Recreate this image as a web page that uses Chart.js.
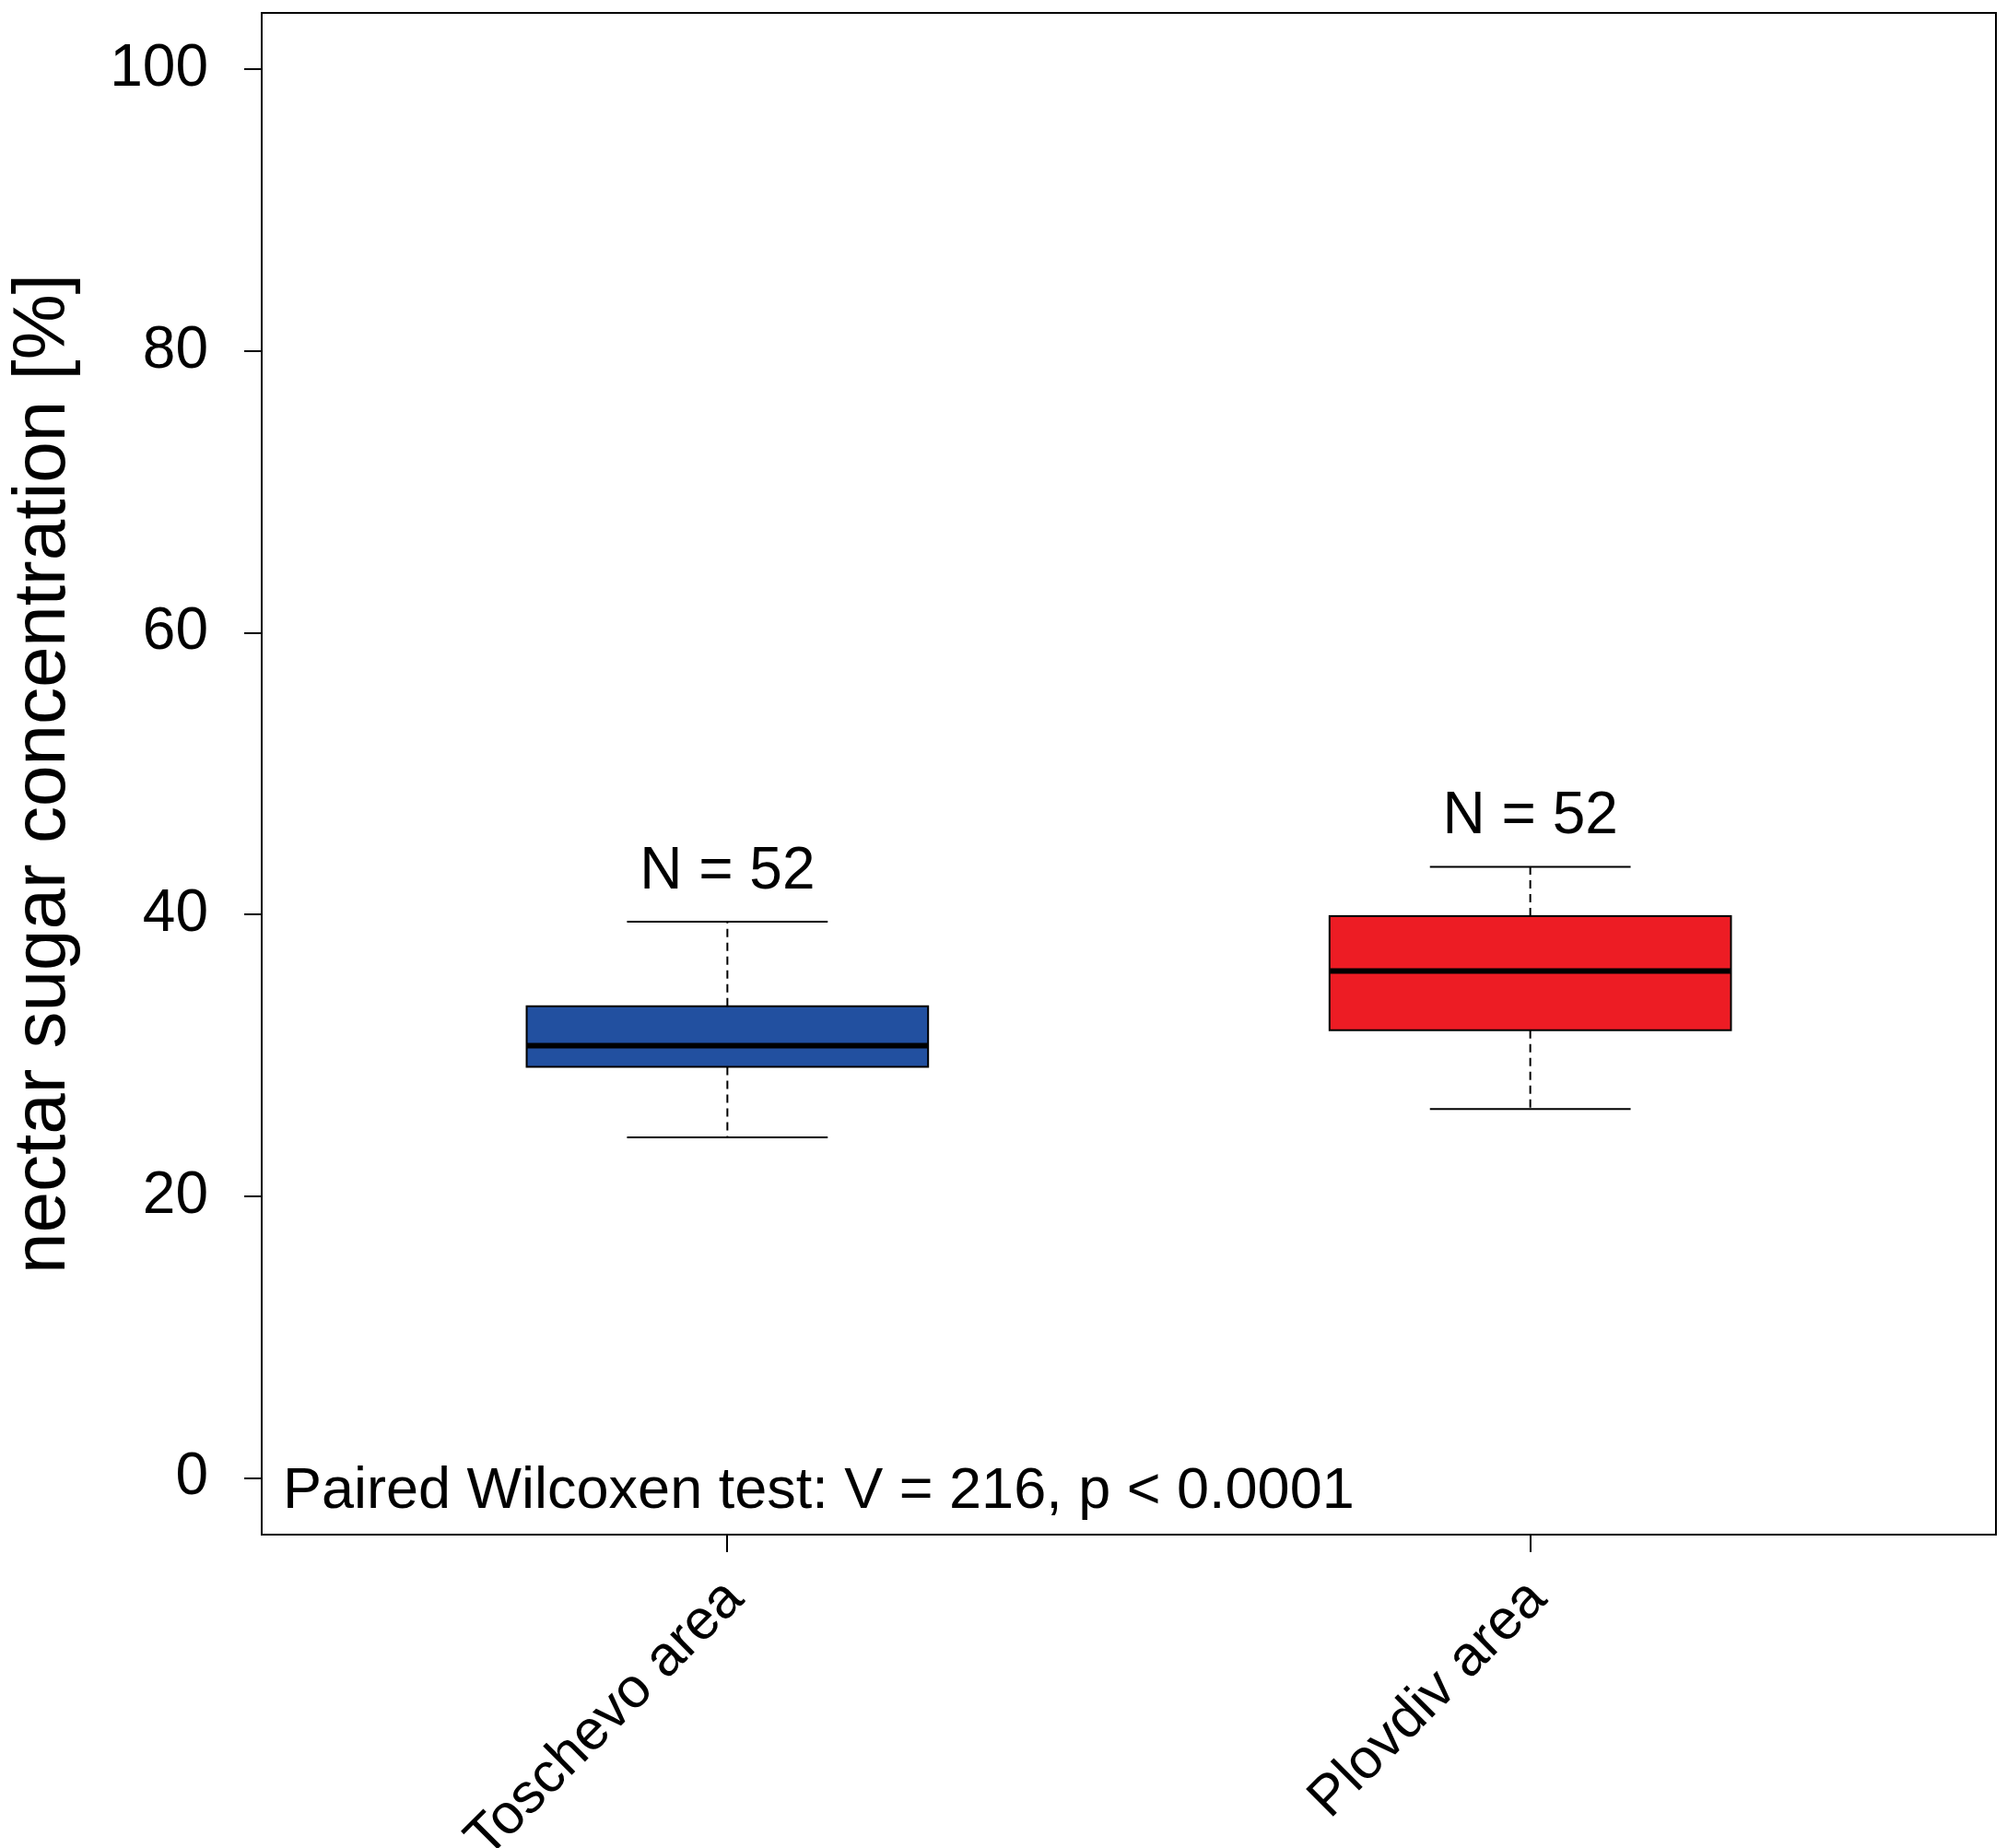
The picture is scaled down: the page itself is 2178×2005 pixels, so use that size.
<!DOCTYPE html>
<html lang="en">
<head>
    <meta charset="UTF-8">
    <title>Nectar sugar concentration</title>
    <script src="https://cdn.jsdelivr.net/npm/chart.js"></script>
    <style>
        body {
            margin: 0;
            background-color: #ffffff;
        }
        #wrap {
            width: 2178px;
            height: 2005px;
            position: relative;
        }
    </style>
</head>
<body>
    <div id="wrap"><canvas id="boxChart"></canvas></div>
    <script>
        // values
        const groups = ['Toschevo area', 'Plovdiv area'];
        const positions = [1, 2];
        const whiskerLow = [24.2, 26.2];
        const q1 = [29.2, 31.8];
        const median = [30.7, 36.0];
        const q3 = [33.5, 39.9];
        const whiskerHigh = [39.5, 43.4];
        const nLabels = ['N = 52', 'N = 52'];
        const yTicks = [0, 20, 40, 60, 80, 100];
        const testNote = 'Paired Wilcoxen test: V = 216, p < 0.0001';

        const boxColors = ['#2250a0', '#ed1c24'];
        const fontFamily = '"Liberation Sans", Arial, sans-serif';

        const boxPlugin = {
            id: 'boxPlugin',
            afterDatasetsDraw(chart) {
                const ctx = chart.ctx;
                const x = chart.scales.x;
                const y = chart.scales.y;
                const area = chart.chartArea;
                ctx.save();
                positions.forEach((p, i) => {
                    const cx = x.getPixelForValue(p);
                    const halfBox = x.getPixelForValue(p + 0.25) - cx;
                    const halfCap = x.getPixelForValue(p + 0.125) - cx;
                    const yLo = y.getPixelForValue(whiskerLow[i]);
                    const yQ1 = y.getPixelForValue(q1[i]);
                    const yMed = y.getPixelForValue(median[i]);
                    const yQ3 = y.getPixelForValue(q3[i]);
                    const yHi = y.getPixelForValue(whiskerHigh[i]);

                    // whiskers
                    ctx.strokeStyle = '#000';
                    ctx.lineWidth = 2;
                    ctx.setLineDash([9, 6]);
                    ctx.beginPath();
                    ctx.moveTo(cx, yQ3); ctx.lineTo(cx, yHi);
                    ctx.moveTo(cx, yQ1); ctx.lineTo(cx, yLo);
                    ctx.stroke();
                    ctx.setLineDash([]);
                    ctx.beginPath();
                    ctx.moveTo(cx - halfCap, yHi); ctx.lineTo(cx + halfCap, yHi);
                    ctx.moveTo(cx - halfCap, yLo); ctx.lineTo(cx + halfCap, yLo);
                    ctx.stroke();

                    // box
                    ctx.fillStyle = boxColors[i];
                    ctx.fillRect(cx - halfBox, yQ3, halfBox * 2, yQ1 - yQ3);
                    ctx.strokeRect(cx - halfBox, yQ3, halfBox * 2, yQ1 - yQ3);

                    // median
                    ctx.lineWidth = 6;
                    ctx.beginPath();
                    ctx.moveTo(cx - halfBox, yMed); ctx.lineTo(cx + halfBox, yMed);
                    ctx.stroke();

                    // N label
                    ctx.fillStyle = '#000';
                    ctx.font = '64px ' + fontFamily;
                    ctx.textAlign = 'center';
                    ctx.textBaseline = 'alphabetic';
                    ctx.fillText(nLabels[i], cx, yHi - 36);

                    // rotated category label
                    ctx.save();
                    ctx.font = '61px ' + fontFamily;
                    ctx.translate(cx + 20, area.bottom + 72);
                    ctx.rotate(-Math.PI / 4);
                    ctx.textAlign = 'right';
                    ctx.fillText(groups[i], 0, 0);
                    ctx.restore();
                });

                // test note
                ctx.font = '63px ' + fontFamily;
                ctx.textAlign = 'left';
                ctx.textBaseline = 'alphabetic';
                ctx.fillStyle = '#000';
                ctx.fillText(testNote, area.left + 23, y.getPixelForValue(0) + 32);

                // frame
                ctx.lineWidth = 2;
                ctx.strokeStyle = '#000';
                ctx.strokeRect(area.left, area.top, area.right - area.left, area.bottom - area.top);
                ctx.restore();
            }
        };

        const ctx = document.getElementById('boxChart').getContext('2d');
        const chart = new Chart(ctx, {
            type: 'scatter',
            data: { datasets: [] },
            options: {
                responsive: true,
                maintainAspectRatio: false,
                animation: false,
                layout: { padding: { top: 14, right: 12, left: 0, bottom: 0 } },
                plugins: {
                    legend: { display: false },
                    tooltip: { enabled: false }
                },
                scales: {
                    x: {
                        type: 'linear',
                        min: 0.42,
                        max: 2.58,
                        afterBuildTicks: (scale) => { scale.ticks = positions.map(v => ({ value: v })); },
                        afterFit: (scale) => {
                            scale.height = 340;
                            scale.paddingLeft = 0;
                            scale.paddingRight = 0;
                        },
                        ticks: { display: false },
                        grid: {
                            drawOnChartArea: false,
                            drawTicks: true,
                            tickLength: 19,
                            color: '#000',
                            lineWidth: 2
                        },
                        border: { display: false }
                    },
                    y: {
                        type: 'linear',
                        min: -4,
                        max: 104,
                        afterBuildTicks: (scale) => { scale.ticks = yTicks.map(v => ({ value: v })); },
                        afterFit: (scale) => {
                            scale.width = 284;
                            scale.paddingTop = 0;
                            scale.paddingBottom = 0;
                        },
                        ticks: {
                            color: '#000',
                            padding: 39,
                            font: { family: fontFamily, size: 64 }
                        },
                        grid: {
                            drawOnChartArea: false,
                            drawTicks: true,
                            tickLength: 19,
                            color: '#000',
                            lineWidth: 2
                        },
                        border: { display: false },
                        title: {
                            display: true,
                            text: 'nectar sugar concentration [%]',
                            color: '#000',
                            padding: 0,
                            font: { family: fontFamily, size: 80, lineHeight: 1.2 }
                        }
                    }
                }
            },
            plugins: [boxPlugin]
        });
    </script>
</body>
</html>
